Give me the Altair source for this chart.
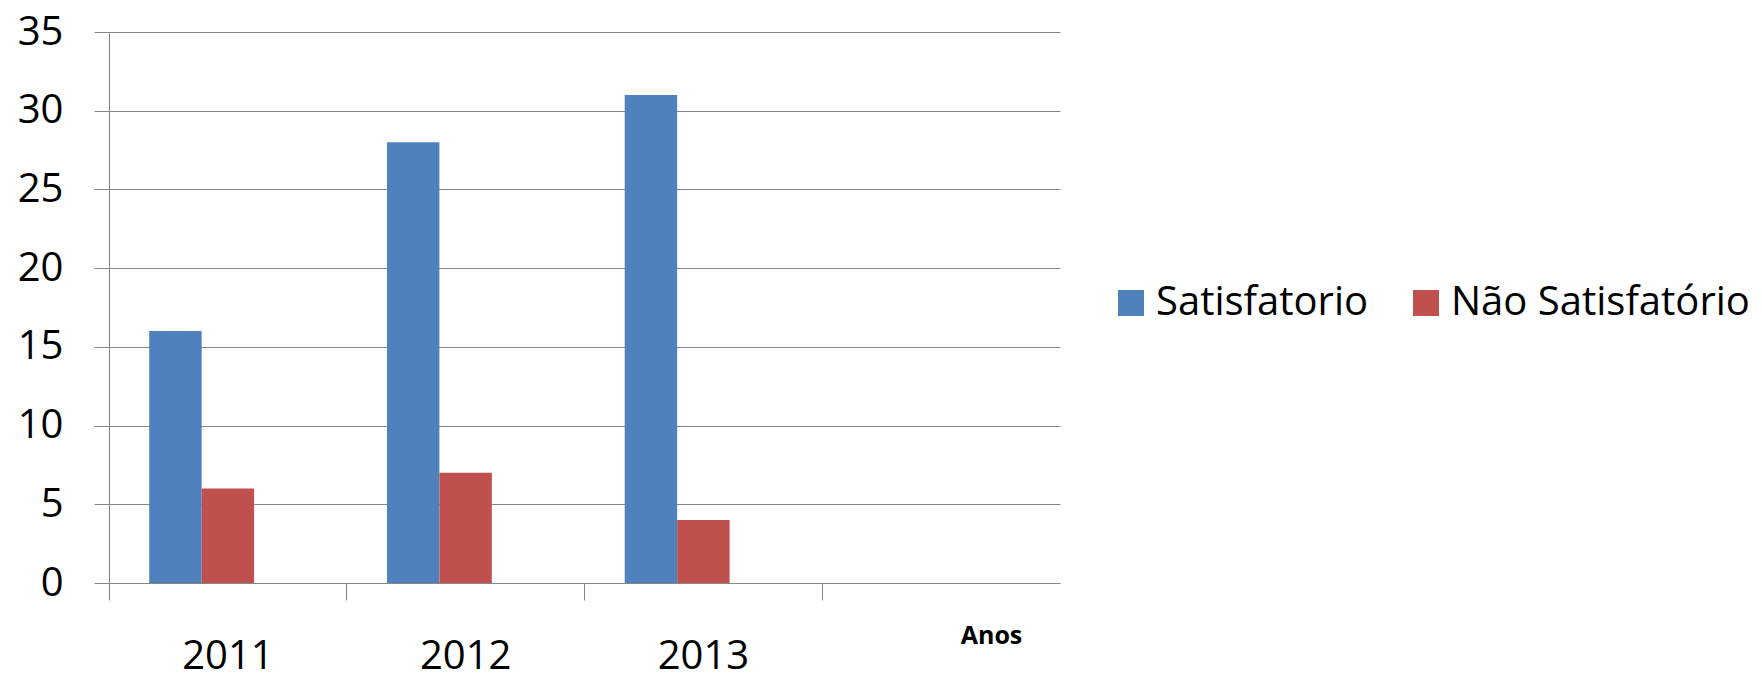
import altair as alt
import pandas as pd

# ---- data ----
years = ["2011", "2012", "2013"]
satisfatorio = [16, 28, 31]
nao_satisfatorio = [6, 7, 4]
series = ["Satisfatorio", "Não Satisfatório"]
series_colors = ["#4F81BD", "#C0504D"]
category_domain = years + [" "]          # 4th (empty) category slot
offset_domain = series + ["vazio"]        # 3rd (empty) series slot
y_ticks = [0, 5, 10, 15, 20, 25, 30, 35]
x_title = "Anos"

rows = []
for i, yr in enumerate(years):
    rows.append({"Ano": yr, "Série": series[0], "Valor": satisfatorio[i]})
    rows.append({"Ano": yr, "Série": series[1], "Valor": nao_satisfatorio[i]})
df = pd.DataFrame(rows)

FONT = "Open Sans"
GRAY = "#878787"

chart = alt.Chart(df).mark_bar().encode(
    x=alt.X(
        "Ano:N",
        sort=category_domain,
        scale=alt.Scale(domain=category_domain, paddingInner=0, paddingOuter=0),
        axis=alt.Axis(
            title=x_title,
            labelAngle=0,
            bandPosition=0,
            ticks=True,
            tickSize=17,
            tickColor=GRAY,
            domainColor=GRAY,
            labelFont=FONT,
            labelFontSize=40,
            labelColor="#000000",
            labelPadding=36,
            grid=False,
            titleFont=FONT,
            titleFontSize=25,
            titleFontWeight="bold",
            titleColor="#000000",
            titleX=882,
            titleY=52,
            titleAlign="center",
            titleBaseline="middle",
        ),
    ),
    xOffset=alt.XOffset(
        "Série:N",
        scale=alt.Scale(domain=offset_domain, paddingInner=0, paddingOuter=0.767),
    ),
    y=alt.Y(
        "Valor:Q",
        scale=alt.Scale(domain=[0, 35], nice=False),
        axis=alt.Axis(
            title=None,
            values=y_ticks,
            grid=True,
            gridColor=GRAY,
            gridWidth=1,
            tickSize=15,
            tickColor=GRAY,
            domainColor=GRAY,
            labelFont=FONT,
            labelFontSize=40,
            labelColor="#000000",
            labelPadding=31,
        ),
    ),
    color=alt.Color(
        "Série:N",
        scale=alt.Scale(domain=series, range=series_colors),
        legend=alt.Legend(
            title=None,
            orient="none",
            direction="horizontal",
            legendX=1002,
            legendY=251,
            symbolType="square",
            symbolSize=676,
            symbolStrokeWidth=0,
            labelFont=FONT,
            labelFontSize=40,
            labelColor="#000000",
            labelOffset=5,
            labelLimit=1000,
            columnPadding=37,
            padding=0,
        ),
    ),
).properties(
    width=951,
    height=551,
    padding={"left": 109, "top": 32, "right": 702, "bottom": 92},
    autosize=alt.AutoSizeParams(type="none"),
    background="#ffffff",
).configure_view(stroke="transparent", strokeWidth=0)

chart.save("out.html", embed_options={"renderer": "svg", "actions": False})
